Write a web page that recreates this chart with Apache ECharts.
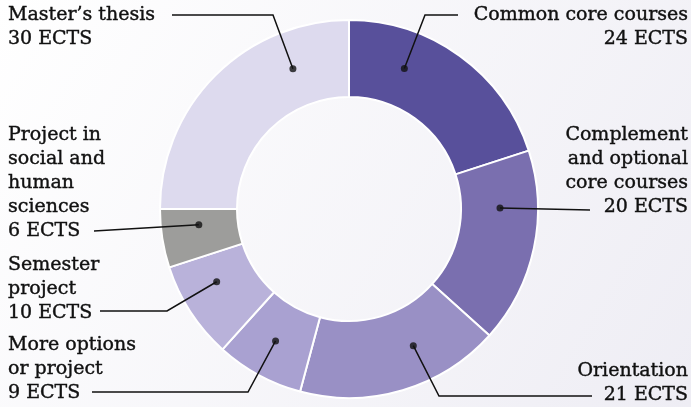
<!DOCTYPE html>
<html>
<head>
<meta charset="utf-8">
<script src="https://cdn.jsdelivr.net/npm/echarts@6/dist/echarts.min.js"></script>
<style>html,body{margin:0;padding:0;}#c{width:691px;height:407px;}</style>
</head>
<body>
<div id="c"></div>
<script>
const categories = [
  'Common core courses',
  'Complement\nand optional\ncore courses',
  'Orientation',
  'More options\nor project',
  'Semester\nproject',
  'Project in\nsocial and\nhuman\nsciences',
  'Master\u2019s thesis'
];
const ects = [24, 20, 21, 9, 10, 6, 30];
const unit = 'ECTS';

// styling / layout (not data)
const colors = ['#58509b', '#7a6faf', '#9990c5', '#a9a1d1', '#b9b2da', '#9d9d9b', '#dddaee'];
const CX = 349, CY = 209, R_OUT = 189, R_IN = 112, R_DOT = 151;
const labelCfg = [
  {x: 688, y: 3,   align: 'right', ang: 21.5,  pts: [[425, 15], [458, 15]]},
  {x: 688, y: 123, align: 'right', ang: 89.6,  pts: [[590, 210]]},
  {x: 688, y: 359, align: 'right', ang: 154.8, pts: [[439, 396], [592, 396]]},
  {x: 8,   y: 333, align: 'left',  ang: 209.1, pts: [[248, 392], [92, 392]]},
  {x: 8,   y: 253, align: 'left',  ang: 241.2, pts: [[167, 311], [100, 311]]},
  {x: 8,   y: 123, align: 'left',  ang: 264,   pts: [[94, 231]]},
  {x: 8,   y: 3,   align: 'left',  ang: 338.2, pts: [[273, 15], [172, 15]]}
];
function anchor(i) {
  const a = labelCfg[i].ang * Math.PI / 180;
  return [CX + R_DOT * Math.sin(a), CY - R_DOT * Math.cos(a)];
}

const pieData = categories.map((n, i) => ({name: n, value: ects[i], itemStyle: {color: colors[i]}}));

const chart = echarts.init(document.getElementById('c'), null, {renderer: 'canvas'});
const option = {
  backgroundColor: new echarts.graphic.LinearGradient(0, 0, 1, 1, [
    {offset: 0, color: '#ffffff'},
    {offset: 1, color: '#eeedf4'}
  ]),
  animation: false,
  polar: {center: [CX, CY], radius: R_OUT},
  angleAxis: {type: 'value', min: 0, max: 360, startAngle: 90, clockwise: true, show: false},
  radiusAxis: {type: 'value', min: 0, max: R_OUT, show: false},
  series: [
    {
      type: 'pie',
      z: 2,
      center: [CX, CY],
      radius: [R_IN, R_OUT],
      startAngle: 90,
      clockwise: true,
      silent: true,
      itemStyle: {borderColor: '#ffffff', borderWidth: 2},
      label: {show: false},
      labelLine: {show: false},
      data: pieData
    },
    {
      type: 'pie',
      z: 4,
      center: [CX, CY],
      radius: [R_IN, R_OUT],
      startAngle: 90,
      clockwise: true,
      silent: true,
      avoidLabelOverlap: false,
      itemStyle: {color: 'rgba(0,0,0,0)', borderWidth: 0},
      label: {
        show: true,
        position: 'outside',
        fontFamily: 'DejaVu Serif',
        fontSize: 19,
        lineHeight: 24,
        color: '#111',
        textBorderColor: '#111',
        textBorderWidth: 0.4,
        formatter: p => p.name + '\n' + p.value + ' ' + unit
      },
      labelLine: {show: true, lineStyle: {color: '#111', width: 1.5}},
      labelLayout: function (params) {
        const i = params.dataIndex;
        const c = labelCfg[i];
        return {
          x: c.x,
          y: c.y,
          align: c.align,
          verticalAlign: 'top',
          labelLinePoints: [anchor(i)].concat(c.pts)
        };
      },
      data: categories.map((n, i) => ({name: n, value: ects[i]}))
    },
    {
      type: 'scatter',
      coordinateSystem: 'polar',
      symbol: 'circle',
      symbolSize: 7,
      itemStyle: {color: '#111'},
      silent: true,
      z: 6,
      data: categories.map((n, i) => [R_DOT, labelCfg[i].ang])
    }
  ]
};
chart.setOption(option);
</script>
</body>
</html>
